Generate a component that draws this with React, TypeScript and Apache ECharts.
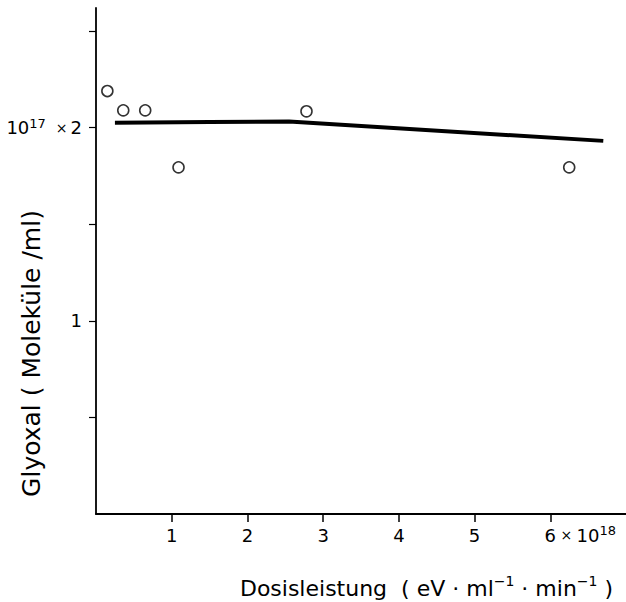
import React, { useEffect, useRef } from "react";
import * as echarts from "echarts";

const circleX = [0.15, 0.36, 0.65, 1.09, 2.78, 6.25];
const circleY = [2.19, 2.09, 2.09, 1.795, 2.085, 1.795];
const lineX = [0.25, 1.5, 2.55, 6.7];
const lineY = [2.026, 2.03, 2.032, 1.932];
const xTicks = [1, 2, 3, 4, 5, 6];
const yTicks = [0.5, 1, 1.5, 2, 2.5];
const yLabels = [1, 2];

const FONT = "DejaVu Sans";

export default function App() {
  const ref = useRef<HTMLDivElement>(null);
  useEffect(() => {
    const chart = echarts.init(ref.current!, null, { renderer: "svg" });
    chart.setOption({
      animation: false,
      backgroundColor: "#fff",
      grid: { left: 96, right: 0, top: 8, bottom: 88, containLabel: false, outerBoundsMode: "none" },
      xAxis: {
        type: "value",
        min: 0,
        max: 7,
        interval: 1,
        name: "{t|Dosisleistung  ( eV · ml}{s|−1}{t| · min}{s|−1}{t| )}",
        nameLocation: "middle",
        nameGap: 60,
        nameMoveOverlap: false,
        nameTextStyle: {
          padding: [0, 0, 0, 131],
          rich: {
            t: { fontFamily: FONT, fontSize: 22, color: "#000", lineHeight: 28 },
            s: { fontFamily: FONT, fontSize: 14, color: "#000", verticalAlign: "top", lineHeight: 28 },
          },
        },
        axisLine: { lineStyle: { color: "#000", width: 1.8 } },
        axisTick: { customValues: xTicks, length: 8, inside: false, lineStyle: { color: "#000", width: 1.5 } },
        axisLabel: {
          customValues: xTicks,
          margin: 10,
          formatter: (v: number) =>
            v === 6 ? "{p|}{n|6}{x| × }{n|10}{s|18}" : "{n|" + v + "}",
          rich: {
            n: { fontFamily: FONT, fontSize: 18, color: "#000", lineHeight: 22 },
            p: { width: 60 },
            x: { fontFamily: FONT, fontSize: 14, color: "#000", lineHeight: 22 },
            s: { fontFamily: FONT, fontSize: 13, color: "#000", verticalAlign: "top", lineHeight: 22 },
          },
        },
        splitLine: { show: false },
      },
      yAxis: {
        type: "value",
        min: 0,
        max: 2.62,
        interval: 0.5,
        name: "Glyoxal ( Moleküle /ml)",
        nameLocation: "middle",
        nameGap: 52,
        nameRotate: 90,
        nameMoveOverlap: false,
        nameTextStyle: {
          fontFamily: FONT,
          fontSize: 25,
          color: "#000",
          padding: [0, 185, 0, 0],
        },
        axisLine: { lineStyle: { color: "#000", width: 1.8 } },
        axisTick: { customValues: yTicks, length: 7, lineStyle: { color: "#000", width: 1.2 } },
        axisLabel: {
          customValues: yLabels,
          margin: 14,
          formatter: (v: number) =>
            v === 2 ? "{n|10}{s|17}{x|×}{n|2}" : "{n|" + v + "}",
          rich: {
            n: { fontFamily: FONT, fontSize: 18, color: "#000", lineHeight: 22 },
            x: { fontFamily: FONT, fontSize: 14, color: "#000", lineHeight: 22, padding: [0, 3, 0, 10] },
            s: { fontFamily: FONT, fontSize: 13, color: "#000", verticalAlign: "top", lineHeight: 22 },
          },
        },
        splitLine: { show: false },
      },
      series: [
        {
          type: "line",
          data: lineX.map((x, i) => [x, lineY[i]]),
          showSymbol: false,
          symbol: "none",
          lineStyle: { color: "#000", width: 4 },
          z: 2,
        },
        {
          type: "scatter",
          data: circleX.map((x, i) => [x, circleY[i]]),
          symbol: "circle",
          symbolSize: 11,
          itemStyle: { color: "#fff", borderColor: "#000", borderWidth: 1.6 },
          z: 3,
        },
      ],
    });
    return () => chart.dispose();
  }, []);
  return (
    <div
      ref={ref}
      style={{ position: "absolute", left: 0, top: 0, width: 626, height: 602 }}
    />
  );
}
